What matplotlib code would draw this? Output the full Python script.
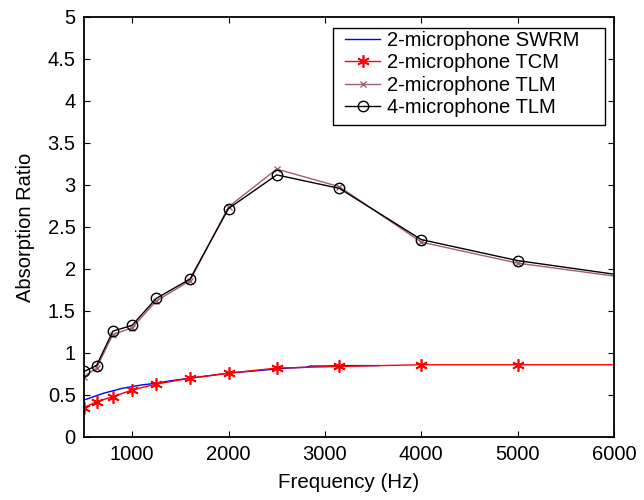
import numpy as np
import matplotlib
matplotlib.use('Agg')
import matplotlib.pyplot as plt
from matplotlib.patches import Rectangle

plt.rcParams['font.family'] = ['Liberation Sans', 'DejaVu Sans']

# third-octave frequencies (Hz)
freq = [500, 630, 800, 1000, 1250, 1600, 2000, 2500, 3150, 4000, 5000, 6300]

# 2-microphone SWRM
swrm_freq = [500, 600, 700, 800, 900, 1000, 1100, 1250, 1400, 1600, 1800, 2000,
             2200, 2400, 2600, 2800, 2850, 3000, 3200, 3400, 3560]
swrm = [0.44, 0.48, 0.52, 0.55, 0.58, 0.60, 0.62, 0.64, 0.67, 0.70, 0.73, 0.76,
        0.78, 0.80, 0.82, 0.83, 0.845, 0.845, 0.85, 0.85, 0.85]

tcm = [0.35, 0.42, 0.48, 0.56, 0.63, 0.70, 0.76, 0.82, 0.84, 0.86, 0.86, 0.86]
tlm2 = [0.72, 0.82, 1.22, 1.30, 1.62, 1.86, 2.74, 3.19, 2.98, 2.32, 2.07, 1.87]
tlm4 = [0.78, 0.85, 1.26, 1.33, 1.65, 1.88, 2.72, 3.12, 2.96, 2.35, 2.10, 1.89]

fs = 14.5
fig = plt.figure(figsize=(6.44, 5.0), dpi=100)
ax = fig.add_axes([0.1304, 0.126, 0.823, 0.84])

ax.plot(swrm_freq, swrm, color='blue', lw=1.0, label='2-microphone SWRM')
ax.plot(freq, tcm, color='red', lw=1.0, marker=(6, 2, 0), ms=9, mew=1.2,
        label='2-microphone TCM')
ax.plot(freq, tlm2, color='#a06070', lw=1.0, marker='x', ms=5, label='2-microphone TLM')
ax.plot(freq, tlm4, color='black', lw=1.0, marker='o', ms=7.5, mfc='none',
        label='4-microphone TLM')

ax.set_xlim(500, 6000)
ax.set_ylim(0, 5)
ax.set_xticks([1000, 2000, 3000, 4000, 5000, 6000])
ax.set_yticks(np.arange(0, 5.01, 0.5))
ax.set_yticklabels(['0', '0.5', '1', '1.5', '2', '2.5', '3', '3.5', '4', '4.5', '5'])
ax.tick_params(direction='in', top=True, right=True, labelsize=fs, length=4, pad=6)
for s in ax.spines.values():
    s.set_linewidth(1.3)

ax.set_xlabel('Frequency (Hz)', fontsize=14.8, labelpad=6)
ax.set_ylabel('Absorption Ratio', fontsize=fs, labelpad=9)

# legend box drawn separately (matlab style, wide right margin)
box = Rectangle((0.4698, 0.7429), 0.5132, 0.231, transform=ax.transAxes,
                facecolor='white', edgecolor='black', lw=1.0, zorder=4.5)
ax.add_patch(box)
leg = ax.legend(loc='upper left', bbox_to_anchor=((345 - 84) / 530, 1 - 14 / 420),
                fontsize=fs, frameon=False, borderpad=0.0, labelspacing=0.17,
                handlelength=1.75, handletextpad=0.35, borderaxespad=0.0)
leg.set_zorder(5)

fig.savefig('out.png', dpi=100)
